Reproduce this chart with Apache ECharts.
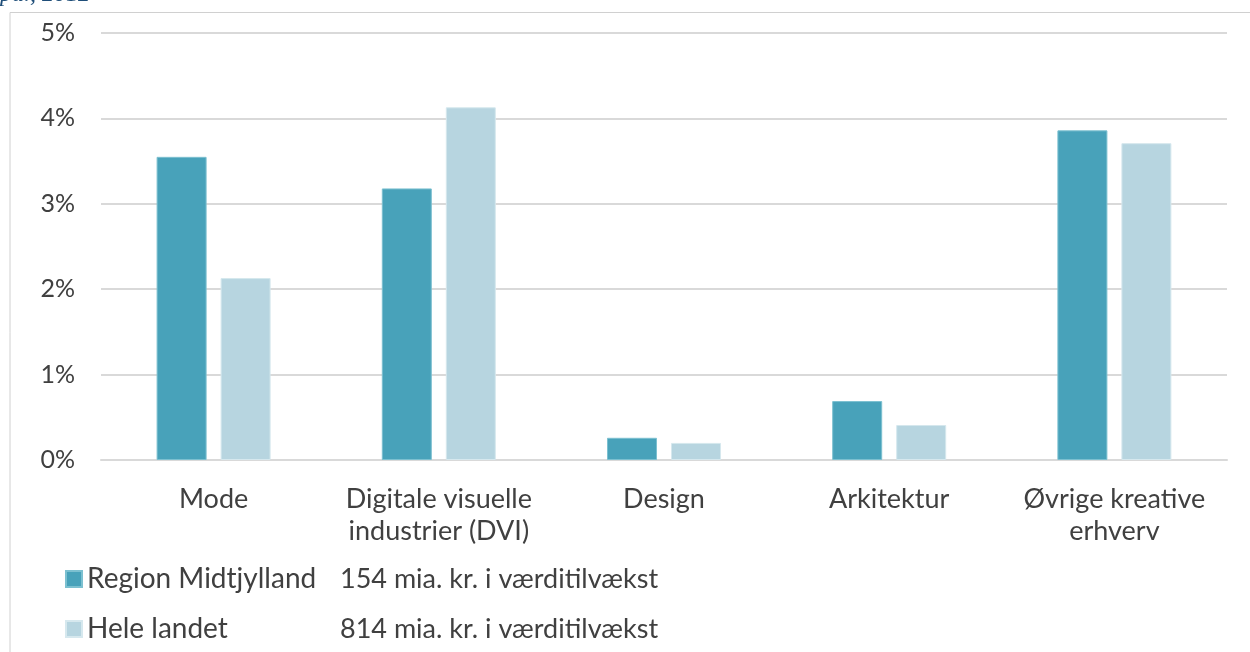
<!DOCTYPE html>
<html>
<head>
<meta charset="utf-8">
<script src="https://cdn.jsdelivr.net/npm/echarts@6/dist/echarts.min.js"></script>
<style>
  html, body { margin: 0; padding: 0; background: #fff; }
  #chart { width: 1250px; height: 652px; }
</style>
</head>
<body>
<div id="chart"></div>
<script>
// categories and values (percent)
var categories = ['Mode', 'Digitale visuelle\nindustrier (DVI)', 'Design', 'Arkitektur', 'Øvrige kreative\nerhverv']
var seriesNames = ['Region Midtjylland', 'Hele landet']
var seriesNotes = ['154 mia. kr. i værditilvækst', '814 mia. kr. i værditilvækst']
var regionValues = [3.55, 3.18, 0.26, 0.69, 3.86]
var landValues = [2.13, 4.13, 0.20, 0.41, 3.71]
var yTicks = [0, 1, 2, 3, 4, 5]
var sourceText = 'pa., 2012'

var textFont = 'Lato'
var textColor = '#404040'

var chart = echarts.init(document.getElementById('chart'))

chart.setOption({
  animation: false,
  textStyle: { fontFamily: textFont },
  grid: {
    left: 101,
    right: 23,
    top: 33,
    bottom: 192
  },
  graphic: [
    // frame
    {
      type: 'polyline',
      shape: { points: [[10, 652], [10, 12.5], [1250, 12.5]] },
      style: { stroke: '#d0d0d0', lineWidth: 1, fill: null }
    },
    {
      type: 'text',
      left: 0,
      top: -17,
      style: {
        text: sourceText,
        font: 'italic 24px "Liberation Serif"',
        fill: '#1f4e79'
      }
    }
  ],
  legend: {
    orient: 'vertical',
    left: 60,
    top: 560,
    itemGap: 22,
    itemWidth: 16,
    itemHeight: 16,
    icon: 'rect',
    data: seriesNames,
    formatter: function (name) {
      var i = seriesNames.indexOf(name)
      return '{a|' + name + '}{b|' + seriesNotes[i] + '}'
    },
    textStyle: {
      rich: {
        a: { width: 253, fontSize: 28, color: textColor, fontFamily: textFont },
        b: { fontSize: 27, color: textColor, fontFamily: textFont }
      }
    }
  },
  xAxis: {
    type: 'category',
    data: categories,
    axisTick: { show: false },
    axisLine: { lineStyle: { color: '#d9d9d9', width: 2 } },
    axisLabel: {
      interval: 0,
      margin: 23,
      fontSize: 27,
      lineHeight: 32,
      color: textColor
    }
  },
  yAxis: {
    type: 'value',
    min: yTicks[0],
    max: yTicks[yTicks.length - 1],
    interval: 1,
    axisLine: { show: false },
    axisTick: { show: false },
    splitLine: { lineStyle: { color: '#d9d9d9', width: 2 } },
    axisLabel: {
      margin: 26,
      fontSize: 25,
      color: textColor,
      formatter: '{value}%'
    }
  },
  series: [
    {
      name: seriesNames[0],
      type: 'bar',
      data: regionValues,
      barWidth: 50,
      barGap: '28%',
      itemStyle: { color: '#48a2ba', borderColor: '#7cc0d0', borderWidth: 1 }
    },
    {
      name: seriesNames[1],
      type: 'bar',
      data: landValues,
      barWidth: 50,
      itemStyle: { color: '#b7d5e0', borderColor: '#d6e8ee', borderWidth: 1 }
    }
  ]
})
</script>
</body>
</html>
